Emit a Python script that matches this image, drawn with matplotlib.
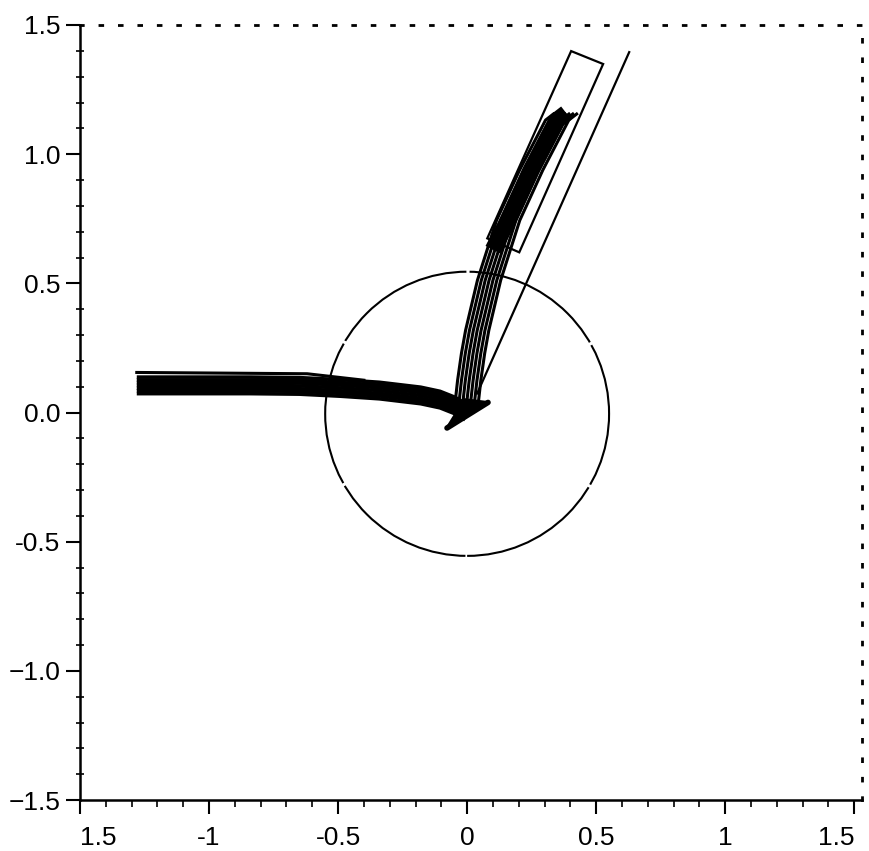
import matplotlib.pyplot as plt
from matplotlib.patches import Circle, Polygon

# bundle of trajectories coming in from the left
left_x = [-1.28, -0.84, -0.65, -0.49, -0.34, -0.18, -0.105, -0.047, -0.008]
left_y = [0.105, 0.105, 0.103, 0.095, 0.085, 0.066, 0.050, 0.027, 0.004]
left_offsets = [-0.032, -0.021, -0.011, 0.0, 0.011, 0.021, 0.032]
top_strand_x = [-1.28, -0.62, -0.40]
top_strand_y = [0.155, 0.150, 0.125]

# bundle leaving up and to the right
up_x = [-0.004, 0.008, 0.023, 0.039, 0.085, 0.159, 0.248, 0.349, 0.384]
up_y = [0.016, 0.124, 0.229, 0.318, 0.512, 0.744, 0.938, 1.132, 1.159]
up_offsets = [-0.045, -0.03, -0.015, 0.0, 0.015, 0.03, 0.045]
core_x = [0.10, 0.159, 0.248, 0.349, 0.384]
core_y = [0.63, 0.744, 0.938, 1.132, 1.159]

# wedge at the turning point
head_x = [-0.078, 0.081, -0.01]
head_y = [-0.060, 0.039, 0.050]

# long straight guide line
guide_x = [0.628, 0.039]
guide_y = [1.395, 0.074]

# tilted box (corners)
box_x = [0.403, 0.527, 0.202, 0.078]
box_y = [1.399, 1.349, 0.620, 0.674]

# circle
circle_center = (0.0, -0.005)
circle_radius = 0.55

xticks = [-1.5, -1.0, -0.5, 0.0, 0.5, 1.0, 1.5]
xticklabels = ['1.5', '-1', '-0.5', '0', '0.5', '1', '1.5']
yticks = [-1.5, -1.0, -0.5, 0.0, 0.5, 1.0, 1.5]
yticklabels = ['\u22121.5', '\u22121.0', '-0.5', '0.0', '0.5', '1.0', '1.5']

plt.rcParams['font.family'] = ['Liberation Sans', 'DejaVu Sans']

fig = plt.figure(figsize=(8.7, 8.51), dpi=100)
ax = fig.add_axes([80 / 870, 1 - 800 / 851, 782 / 870, 775 / 851])

ax.add_patch(Circle(circle_center, circle_radius, fill=False, color='black',
                    lw=1.5, linestyle=(0, (70, 1.5))))

for off in left_offsets:
    ax.plot(left_x, [v + off for v in left_y], color='black', lw=2.6,
            solid_capstyle='butt', solid_joinstyle='round')
ax.plot(top_strand_x, top_strand_y, color='black', lw=2.2)

for off in up_offsets:
    ax.plot([v + off for v in up_x], up_y, color='black', lw=2.2,
            solid_capstyle='butt', solid_joinstyle='round')
ax.plot(core_x, core_y, color='black', lw=12, solid_capstyle='butt')

ax.add_patch(Polygon(list(zip(head_x, head_y)), closed=True,
                     color='black', lw=2))
ax.plot(head_x[:2], head_y[:2], color='black', lw=4, solid_capstyle='round')

ax.plot(guide_x, guide_y, color='black', lw=1.6)
ax.add_patch(Polygon(list(zip(box_x, box_y)), closed=True, fill=False,
                     edgecolor='black', lw=1.6))

ax.set_xlim(-1.5, 1.53)
ax.set_ylim(-1.5, 1.5)

ax.set_xticks(xticks)
ax.set_xticklabels(xticklabels, fontsize=19)
ax.get_xticklabels()[0].set_horizontalalignment('left')
ax.get_xticklabels()[-1].set_horizontalalignment('right')
ax.set_yticks(yticks)
ax.set_yticklabels(yticklabels, fontsize=19)
ax.set_xticks([i / 10 for i in range(-15, 16)], minor=True)
ax.set_yticks([i / 10 for i in range(-15, 16)], minor=True)

ax.tick_params(which='major', direction='out', length=10, width=1.5, pad=9,
               top=False, right=False)
ax.tick_params(which='minor', direction='out', length=5, width=1.2,
               top=False, right=False)
ax.tick_params(axis='y', which='major', pad=4)
ax.tick_params(axis='y', which='minor', direction='inout', length=6)

for side in ['left', 'bottom']:
    ax.spines[side].set_linewidth(1.8)
for side in ['top', 'right']:
    ax.spines[side].set_linestyle((0, (1, 6)))
    ax.spines[side].set_linewidth(2)

fig.savefig('out.png', dpi=100)
